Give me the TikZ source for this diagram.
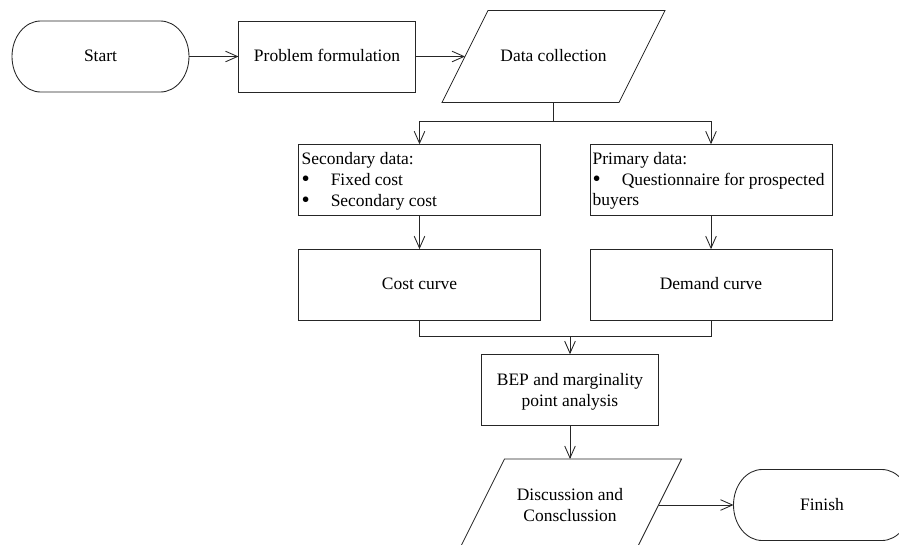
\documentclass[tikz,border=0pt]{standalone}
\usepackage{fontspec}
\setmainfont{Liberation Serif}
\usetikzlibrary{arrows.meta,calc}
\newcommand\fsz{\fontsize{13.1pt}{15.5pt}\selectfont}
\newcommand\bigbul{\makebox[21.8pt][l]{\raisebox{-1.2pt}{\fontsize{17.5pt}{17.5pt}\selectfont\textbullet}}}
\newcommand\termshape[1]{%
  \draw[line] ([xshift=21.5pt]#1.north west) -- ([xshift=-21.5pt]#1.north east)
    arc[start angle=90,end angle=-90,x radius=21.5pt,y radius=26.625pt]
    -- ([xshift=21.5pt]#1.south west)
    arc[start angle=270,end angle=90,x radius=21.5pt,y radius=26.625pt] -- cycle;}
\newcommand\parashape[1]{%
  \draw[line] ($(#1)+(-65.5,-46)$) -- ($(#1)+(111.5,-46)$) -- ($(#1)+(65.5,46)$) -- ($(#1)+(-111.5,46)$) -- cycle;}
\begin{document}
\begin{tikzpicture}[x=0.75pt,y=-0.75pt,
  line/.style={draw=black!85, line width=0.65pt},
  arr/.style={line, -{Straight Barb[length=9pt,width=8pt]}},
  txt/.style={font=\fsz, inner sep=0pt, outer sep=0pt, text height=10.5pt, text depth=2.6pt},
  box/.style={txt, line, rectangle, minimum width=132.75pt, minimum height=53.25pt},
  wbox/.style={box, minimum width=181.5pt},
  term/.style={txt, rectangle, minimum width=132.75pt, minimum height=53.25pt},
  mtxt/.style={font=\fsz, inner sep=0pt, outer sep=0pt, align=center},
  ltxt/.style={font=\fsz, inner sep=0pt, outer sep=0pt, anchor=base west}
]
\path[use as bounding box] (0,0) rectangle (899,544);
\clip (0,0) rectangle (899,544);

% top row
\node[term] (st) at (100.5,56.5) {Start};
\termshape{st}
\node[box] (pf) at (327,56.5) {Problem formulation};
\node[txt] (dc) at (553.5,56.5) {Data collection};
\parashape{dc}
\coordinate (dcW) at ($(dc)+(-88.5,0)$);
\coordinate (dcS) at ($(dc)+(0,46)$);

% data boxes
\node[wbox] (sd) at (419.5,179.75) {};
\node[wbox] (pd) at (711,179.75) {};
\node[ltxt] (sd1) at (301.7,164) {Secondary data:};
\node[ltxt] (sd2) at (301.7,185) {\bigbul Fixed cost};
\node[ltxt] (sd3) at (301.7,206) {\bigbul Secondary cost};
\node[ltxt] (pd1) at (592.7,164) {Primary data:};
\node[ltxt] (pd2) at (592.7,185) {\bigbul Questionnaire for prospected};
\node[ltxt] (pd3) at (592.7,205.7) {buyers};

% curves
\node[wbox] (cc) at (419.5,284.6) {Cost curve};
\node[wbox] (dm) at (711,284.6) {Demand curve};
\coordinate (mg) at (570,336.7);

% analysis
\node[line, rectangle, minimum width=132.75pt, minimum height=53.25pt, inner sep=0pt, outer sep=0pt] (bep) at (570,389.7) {};
\node[mtxt, yshift=-1.5pt] (beptxt) at (bep) {BEP and marginality\\point analysis};
\node[mtxt] (ds) at (570,505) {Discussion and\\Consclussion};
\parashape{ds}
\coordinate (dsN) at ($(ds)+(0,-46)$);
\coordinate (dsE) at ($(ds)+(88.5,0)$);
\node[term] (fi) at (822,505) {Finish};
\termshape{fi}

% connectors
\draw[arr] (st.east) -- (pf.west);
\draw[arr] (pf.east) -- (dcW);
\draw[arr] (dcS) -- ++(0,19.2) -| (sd.north);
\draw[arr] (dcS) -- ++(0,19.2) -| (pd.north);
\draw[arr] (sd.south) -- (cc.north);
\draw[arr] (pd.south) -- (dm.north);
\draw[line] (cc.south) |- (mg) -| (dm.south);
\draw[arr] (mg) -- (bep.north);
\draw[arr] (bep.south) -- (dsN);
\draw[arr] (dsE) -- (fi.west);
\end{tikzpicture}
\end{document}
